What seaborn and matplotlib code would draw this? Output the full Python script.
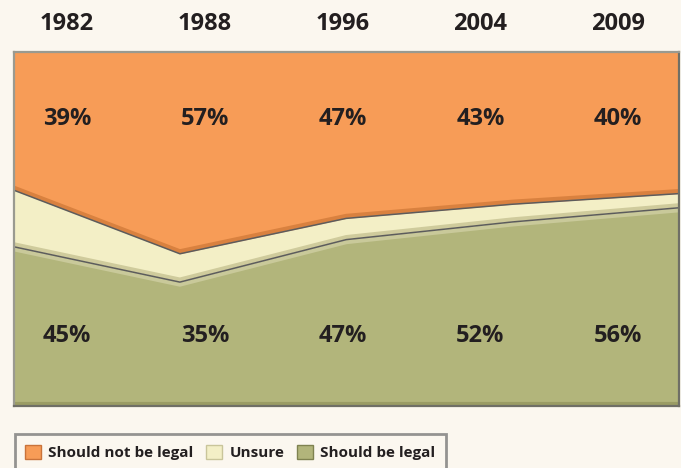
import matplotlib.pyplot as plt
import matplotlib.transforms as mtransforms
import numpy as np
import pandas as pd
import seaborn as sns
from matplotlib.patches import Patch

years = ["1982", "1988", "1996", "2004", "2009"]
should_be_legal = [45, 35, 47, 52, 56]
unsure = [16, 8, 6, 5, 4]
should_not_be_legal = [39, 57, 47, 43, 40]

BG = "#fbf7ef"
ORANGE = "#f79c57"
CREAM = "#f3efc6"
GREEN = "#b2b57b"
INK = "#231f20"

sns.set_theme(style="white")
plt.rcParams["font.family"] = ["Open Sans", "DejaVu Sans"]

fig = plt.figure(figsize=(6.81, 4.68), dpi=100, facecolor=BG)
ax = fig.add_axes([13.5 / 681, 62 / 468, 665.5 / 681, 354 / 468])

x = np.arange(len(years))
ax.stackplot(x, should_be_legal, unsure, should_not_be_legal,
             colors=[GREEN, CREAM, ORANGE], linewidth=0)

# boundary lines with a soft shade next to them
df = pd.DataFrame({
    "x": np.concatenate([x, x]),
    "y": np.concatenate([np.array(should_be_legal),
                         np.array(should_be_legal) + np.array(unsure)]),
    "edge": ["low"] * len(x) + ["high"] * len(x),
})
shade_up = mtransforms.offset_copy(ax.transData, fig=fig, x=0, y=2.5, units="dots")
shade_dn = mtransforms.offset_copy(ax.transData, fig=fig, x=0, y=-2.5, units="dots")
low = df[df.edge == "low"]
high = df[df.edge == "high"]
ax.plot(high.x, high.y, color="#d9813f", lw=3, transform=shade_up, solid_capstyle="butt")
ax.plot(low.x, low.y, color="#cfcb9c", lw=3, transform=shade_up, solid_capstyle="butt")
ax.plot(low.x, low.y, color="#c9c99a", lw=3, transform=shade_dn, solid_capstyle="butt")
sns.lineplot(data=df, x="x", y="y", units="edge", estimator=None,
             color="#5c5c5c", lw=1.1, ax=ax, legend=False)

# bevel shade along the bottom edge
ax.plot([0, 1], [0.006, 0.006], transform=ax.transAxes, color="#9a9c64", lw=3, solid_capstyle="butt")

ax.set_xlim(0, 4)
ax.set_ylim(0, 100)
ax.set_xticks([])
ax.set_yticks([])
ax.set_xlabel("")
ax.set_ylabel("")
for side, sp in ax.spines.items():
    sp.set_visible(True)
    sp.set_linewidth(1.6)
    sp.set_color("#6f6f66" if side in ("bottom", "right") else "#9a9a90")

# labels sit in evenly spaced columns
label_x = [0.322 + 0.828 * i for i in range(len(years))]
for lx, yr, top, bot in zip(label_x, years, should_not_be_legal, should_be_legal):
    ax.text(lx, 1.079, yr, transform=ax.get_xaxis_transform(), ha="center", va="center",
            fontsize=17, fontweight="bold", color=INK)
    ax.text(lx, 81.2, f"{top}%", ha="center", va="center",
            fontsize=17, fontweight="bold", color=INK)
    ax.text(lx, 19.9, f"{bot}%", ha="center", va="center",
            fontsize=17, fontweight="bold", color=INK)

handles = [
    Patch(facecolor=ORANGE, edgecolor="#c9733a", label="Should not be legal"),
    Patch(facecolor=CREAM, edgecolor="#c9c59a", label="Unsure"),
    Patch(facecolor=GREEN, edgecolor="#7f8250", label="Should be legal"),
]
leg = fig.legend(handles=handles, loc="upper left", bbox_to_anchor=(14.5 / 681, 1 - 434 / 468),
                 ncol=3, frameon=True, fancybox=False, fontsize=11,
                 handlelength=1.05, handleheight=1.05, handletextpad=0.45,
                 columnspacing=0.85, borderpad=0.7, borderaxespad=0)
leg.get_frame().set_edgecolor("#7a7a7a")
leg.get_frame().set_linewidth(2)
leg.get_frame().set_facecolor(BG)
for t in leg.get_texts():
    t.set_fontweight("bold")
    t.set_color(INK)

fig.savefig("out.png", dpi=100, facecolor=BG)
